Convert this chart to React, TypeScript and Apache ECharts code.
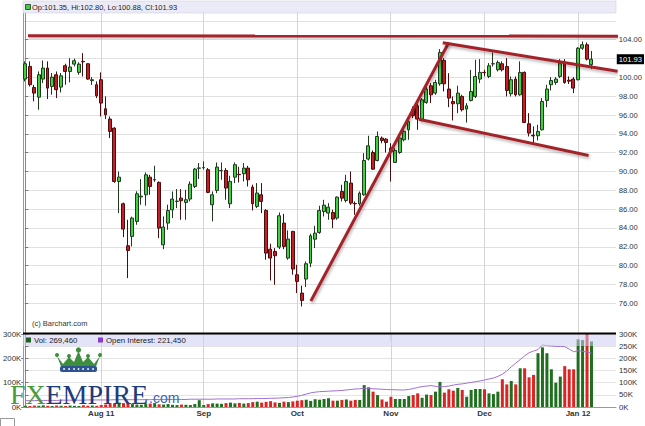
import React, { useEffect, useRef } from 'react';
import * as echarts from 'echarts';

// ---- data ----
const opens = [99.82,101.17,98.93,97.90,99.82,100.99,99.04,100.28,98.97,101.24,
100.63,101.41,100.53,101.70,101.45,99.65,99.22,99.75,96.67,95.57,
94.61,88.94,86.57,82.11,83.10,84.70,87.30,87.53,89.40,89.10,
88.84,82.21,84.52,85.93,86.82,87.17,86.71,87.07,88.41,90.34,
90.40,90.19,86.47,87.99,90.08,90.11,86.57,89.40,89.70,89.76,
90.36,88.34,86.29,87.53,85.86,81.75,81.50,81.97,84.52,80.80,
83.63,79.03,77.08,78.57,80.26,82.81,83.52,85.75,85.58,85.65,
85.05,87.88,86.92,88.77,86.60,86.57,87.53,91.32,92.02,91.17,
93.55,93.44,92.48,90.96,92.02,93.37,94.43,96.63,96.98,95.50,
97.34,99.11,98.33,99.32,101.80,98.76,97.44,97.20,97.98,96.63,
97.55,97.98,99.82,100.53,100.10,101.44,100.81,101.45,101.16,98.26,
99.82,98.15,100.53,95.07,93.85,93.80,94.43,97.55,99.22,99.46,
100.10,101.52,99.70,99.82,99.75,103.10,103.47,101.35];

const highs = [101.70,101.70,99.20,100.63,101.80,101.70,100.46,100.63,100.46,101.45,
102.05,102.00,101.60,102.58,101.50,100.03,99.57,100.53,97.98,95.85,
94.70,90.00,86.70,84.87,85.20,87.90,89.19,89.90,89.65,90.61,
88.95,85.23,86.47,87.88,88.13,88.13,88.06,88.95,90.37,90.90,
91.07,90.37,87.88,90.96,90.96,90.36,89.55,90.96,90.50,90.90,
90.60,88.60,88.77,88.77,86.00,82.32,81.86,85.65,85.50,83.74,
83.70,80.09,77.86,80.44,83.38,84.23,86.36,86.99,86.64,85.93,
87.35,88.59,89.65,90.00,86.82,87.88,91.95,93.80,92.24,94.26,
93.72,93.55,93.00,92.48,93.90,94.61,95.85,96.91,97.20,97.80,
99.20,99.39,99.75,103.00,102.05,100.45,97.98,99.11,98.15,97.27,
100.80,101.87,101.94,100.81,101.52,102.65,101.80,101.70,102.05,100.10,
100.10,101.70,100.63,96.20,94.79,94.96,97.80,99.22,100.03,100.03,
101.94,101.94,100.10,100.03,103.22,103.82,103.71,102.80];

const lows = [99.57,99.04,97.45,96.56,99.40,97.70,98.16,97.80,98.40,99.22,
99.47,101.17,100.28,100.10,99.75,99.20,97.80,95.85,95.57,93.55,
88.80,85.58,83.03,78.67,82.04,84.34,86.47,86.36,87.53,88.90,
82.92,81.75,83.81,85.05,86.11,84.87,84.87,86.82,88.24,89.20,
90.20,87.70,84.70,87.70,89.12,87.00,86.11,88.77,88.84,88.95,
88.41,85.86,86.11,85.58,80.62,78.42,77.96,81.75,81.75,80.62,
79.03,77.08,75.66,77.72,79.84,81.86,83.38,85.22,84.87,83.98,
84.87,86.82,86.71,86.46,85.40,86.36,87.42,91.17,90.18,91.07,
93.00,92.02,88.94,90.90,91.88,93.20,93.37,95.67,94.43,95.32,
97.20,97.27,98.15,99.11,98.50,96.84,95.43,96.20,96.38,95.20,
97.44,97.80,99.39,100.10,99.92,101.16,100.63,100.63,97.98,97.98,
97.98,98.05,95.14,93.72,93.02,93.30,94.36,96.84,98.61,99.22,
99.92,99.32,99.30,98.33,99.68,102.93,101.80,100.88];

const closes = [101.45,99.22,98.33,100.28,100.99,98.86,100.03,98.69,100.17,100.63,
101.10,101.77,101.41,101.66,99.82,99.75,98.05,97.27,96.03,94.26,
88.94,89.40,83.88,81.61,85.05,87.63,87.38,89.65,88.41,89.14,
83.99,84.10,85.86,87.07,86.85,86.89,87.00,88.66,90.26,90.38,
90.42,87.78,87.53,90.47,90.10,88.24,88.95,90.72,89.66,90.36,
89.12,86.57,87.71,86.82,81.33,80.80,81.05,85.30,82.04,82.82,
79.63,78.32,76.30,80.20,83.17,83.45,85.86,86.43,86.21,84.94,
87.28,87.17,88.94,86.64,86.57,87.70,91.17,92.73,90.25,93.72,
93.30,93.09,92.13,92.24,93.55,94.26,95.32,95.92,95.57,97.62,
98.76,98.15,99.46,102.65,99.32,97.80,97.20,98.33,96.56,96.98,
98.50,100.10,100.53,100.50,101.23,101.45,101.59,100.81,98.61,99.75,
98.15,100.53,95.21,94.08,93.78,94.26,97.44,98.76,99.67,99.82,
101.52,99.46,99.60,98.86,103.10,103.47,101.94,101.93];

// volume and open interest, thousands of contracts
const volumeK = [5,4,6,5,7,5,4,6,5,4,6,5,4,7,5,6,5,
8,10,12,14,18,16,15,12,
10,9,12,14,16,11,10,12,9,8,10,9,8,12,28,
8,12,15,14,13,16,18,15,17,14,16,20,22,18,21,24,19,17,22,20,23,
26,28,30,25,32,30,
33,36,26,26,29,31,26,29,29,
90,81,63,49,31,22,42,33,33,33,
45,49,56,38,51,49,63,103,59,73,
67,78,70,42,70,74,74,73,56,53,
63,114,93,107,93,159,159,122,132,221,
245,221,155,100,125,168,155,155,278,275,
300,269.46];

const openInterestK = [26,26,26,27,27,27,27,27,28,28,28,28,28,28,29,29,29,
29,29,29,30,30,30,30,30,30,30,30,30,31,31,31,31,31,31,31,31,32,32,32,
32,32,32,33,33,33,33,33,34,34,34,34,35,35,35,36,36,37,38,39,41,
44,48,53,58,61,63,
64,65,66,67,68,70,72,74,75,
77,76,75,74,73,72,71,71,70,70,
72,76,80,84,86,88,85,83,84,86,
90,93,95,98,101,104,107,111,115,119,
126,135,148,165,180,195,210,223,230,236,
255,252,251,249,249,248,238,227,231,229,226,221.45];

const monthTicks = [17, 40, 61, 82, 103, 124];
const monthLabels = ['Aug 11', 'Sep', 'Oct', 'Nov', 'Dec', 'Jan 12'];
const priceTicks = [74,76,78,80,82,84,86,88,90,92,94,96,98,100,102,104,106];
const SLOTS = 133;

// hand-drawn trend lines, in [day index, price]
const resistanceLine = [[0.62, 104.42], [133.6, 104.38]];
const risingLine = [[64.09, 76.24], [95.04, 103.71]];
const channelTop = [[93.69, 103.68], [132.9, 100.66]];
const channelBottom = [[88.31, 95.55], [126.4, 91.7]];

const FONT = "'Liberation Sans', Arial, sans-serif";
const SERIF = "'Liberation Serif', 'Times New Roman', serif";

export default function App() {
  const ref = useRef<HTMLDivElement>(null);

  useEffect(() => {
    if (!ref.current) return;
    const chart = echarts.init(ref.current, undefined, { renderer: 'svg' });

    const categories = Array.from({ length: SLOTS }, (_, i) => String(i));
    const candles = opens.map((o, i) => [o, closes[i], lows[i], highs[i]]);
    const last = opens.length - 1;
    const labelOf: Record<string, string> = {};
    monthTicks.forEach((t, k) => { labelOf[String(t)] = monthLabels[k]; });
    const gridColors = ['rgba(0,0,0,0)'].concat(priceTicks.map(() => '#e0e0e0'), ['rgba(0,0,0,0)']);
    const volItems = volumeK.map((v, i) => ({
      value: v,
      itemStyle: { color: closes[i] >= opens[i] ? '#1f6f1f' : '#dd2424' },
    }));
    const fmtK = (v: number) => Math.round(v * 1000).toLocaleString('en-US');
    const legendText = `Op:${opens[last].toFixed(2)}, Hi:${highs[last].toFixed(2)}, Lo:${lows[last].toFixed(2)}, Cl:${closes[last].toFixed(2)}`;

    const trend = (pts: number[][], shadow: boolean) => ({
      type: 'line', xAxisIndex: 1, yAxisIndex: 0, data: pts, symbol: 'none',
      clip: false, z: 4, silent: true,
      lineStyle: shadow
        ? { color: '#a3242a', width: 3, shadowColor: 'rgba(0,0,0,0.3)', shadowBlur: 3, shadowOffsetX: 1, shadowOffsetY: 2 }
        : { color: '#a3242a', width: 3 },
    });
    // soft drop shadow under the flat resistance line (an SVG filter would vanish on a flat path)
    const resistanceShadow = {
      type: 'line', xAxisIndex: 1, yAxisIndex: 0,
      data: resistanceLine.map(([x, y]) => [x + 0.2, y - 0.2]),
      symbol: 'none', clip: false, z: 3, silent: true,
      lineStyle: { color: 'rgba(0,0,0,0.14)', width: 3 },
    };
    const monthMark = {
      silent: true, symbol: 'none', z: 1, label: { show: false },
      lineStyle: { color: '#d4d4d4', width: 1, type: 'solid' },
      data: monthTicks.map((i) => ({ xAxis: i })),
    };

    const option: any = {
      animation: false,
      backgroundColor: '#ffffff',
      textStyle: { fontFamily: FONT },
      grid: [
        { left: 23, width: 593, top: 2.1, height: 338.8 },
        { left: 23, width: 593, top: 334, height: 73 },
      ],
      xAxis: [
        { type: 'category', gridIndex: 0, data: categories, show: false, boundaryGap: true },
        { type: 'value', gridIndex: 0, min: -0.5, max: SLOTS - 0.5, show: false },
        {
          type: 'category', gridIndex: 1, data: categories, boundaryGap: true,
          axisLine: { show: true, lineStyle: { color: '#999' } },
          axisTick: { show: false },
          splitLine: { show: false },
          axisLabel: {
            interval: (i: number) => monthTicks.includes(i),
            formatter: (v: string) => labelOf[v] || '',
            fontSize: 8, fontWeight: 'bold', color: '#333', margin: 2, fontFamily: FONT,
          },
        },
        { type: 'value', gridIndex: 1, min: -0.5, max: SLOTS - 0.5, show: false },
      ],
      yAxis: [
        {
          type: 'value', gridIndex: 0, position: 'right', min: 72, max: 108, interval: 2,
          axisLine: { show: true, lineStyle: { color: '#888' } },
          axisTick: { show: true, length: 3, lineStyle: { color: '#777' }, customValues: priceTicks },
          axisLabel: {
            fontSize: 7.6, color: '#333', margin: 3, fontFamily: FONT,
            showMinLabel: false, showMaxLabel: false, customValues: priceTicks,
            formatter: (v: number) => v.toFixed(2),
          },
          splitLine: { show: true, lineStyle: { color: gridColors, width: 1 } },
        },
        {
          type: 'value', gridIndex: 0, position: 'left', min: 72, max: 108,
          axisLine: { show: true, lineStyle: { color: '#999' } },
          axisLabel: { show: false }, axisTick: { show: false }, splitLine: { show: false },
        },
        {
          type: 'value', gridIndex: 1, position: 'right', min: 0, max: 300, interval: 50,
          axisLine: { show: true, lineStyle: { color: '#888' } },
          axisTick: { show: true, length: 3, lineStyle: { color: '#777' } },
          axisLabel: { fontSize: 7.8, color: '#333', margin: 3, fontFamily: FONT, formatter: (v: number) => `${v}K` },
          splitLine: { show: true, lineStyle: { color: '#e4e4e4', width: 1 } },
        },
        {
          type: 'value', gridIndex: 1, position: 'left', min: 0, max: 300, interval: 100,
          axisLine: { show: true, lineStyle: { color: '#999' } },
          axisTick: { show: true, length: 2, lineStyle: { color: '#777' } },
          axisLabel: { fontSize: 7.8, color: '#333', margin: 2, fontFamily: FONT, formatter: (v: number) => `${v}K` },
          splitLine: { show: false },
        },
      ],
      series: [
        {
          type: 'line', xAxisIndex: 1, yAxisIndex: 0, data: [[0, 90]], symbol: 'none',
          showSymbol: false, lineStyle: { opacity: 0 }, silent: true, z: 1, markLine: monthMark,
        },
        {
          type: 'candlestick', xAxisIndex: 0, yAxisIndex: 0, data: candles, barWidth: 3.4, z: 2,
          itemStyle: {
            color: '#3fcf3f', color0: '#c41e26',
            borderColor: '#1f3a1f', borderColor0: '#4a0c0c', borderWidth: 1,
          },
          markLine: {
            silent: true, symbol: 'none', z: 6,
            lineStyle: { color: 'rgba(0,0,0,0)', width: 0 },
            data: [{ yAxis: closes[last] }],
            label: {
              show: true, position: 'end', distance: 1,
              formatter: () => closes[last].toFixed(2),
              backgroundColor: '#000', color: '#fff', fontSize: 7.6, fontFamily: FONT,
              padding: [1, 2, 1, 2],
            },
          },
        },
        resistanceShadow,
        trend(resistanceLine, false),
        trend(risingLine, true),
        trend(channelTop, true),
        trend(channelBottom, true),
        {
          type: 'line', xAxisIndex: 3, yAxisIndex: 2, data: [[0, 0]], symbol: 'none',
          showSymbol: false, lineStyle: { opacity: 0 }, silent: true, z: 1, markLine: monthMark,
        },
        { type: 'bar', xAxisIndex: 2, yAxisIndex: 2, data: volItems, barWidth: 3, z: 2, silent: true },
        {
          type: 'line', xAxisIndex: 2, yAxisIndex: 2, data: openInterestK, symbol: 'none',
          showSymbol: false, silent: true, z: 3, lineStyle: { color: '#a070d0', width: 1 },
        },
      ],
      graphic: [
        // price legend band
        { type: 'rect', z: 10, shape: { x: 23, y: 1, width: 593, height: 12 }, style: { fill: '#ebebf7', stroke: '#c8c8d8', lineWidth: 0.5 } },
        { type: 'rect', z: 11, shape: { x: 25.5, y: 4.5, width: 5, height: 5 }, style: { fill: '#3fcf3f', stroke: '#1f3a1f', lineWidth: 0.8 } },
        { type: 'text', z: 11, style: { x: 32, y: 7.5, text: legendText, fontSize: 7.5, fontFamily: FONT, fill: '#222', textVerticalAlign: 'middle' } },
        { type: 'text', z: 11, style: { x: 32, y: 323, text: '(c) Barchart.com', fontSize: 7.5, fontFamily: FONT, fill: '#333', textVerticalAlign: 'middle' } },
        // volume legend band
        { type: 'line', z: 11, shape: { x1: 23, y1: 333.5, x2: 616, y2: 333.5 }, style: { stroke: '#000', lineWidth: 2 } },
        { type: 'rect', z: 10, shape: { x: 23, y: 334.5, width: 593, height: 11.5 }, style: { fill: 'rgba(205,205,242,0.55)' } },
        { type: 'rect', z: 11, shape: { x: 26, y: 337.5, width: 5, height: 5 }, style: { fill: '#1f5f1f' } },
        { type: 'text', z: 11, style: { x: 34, y: 340.3, text: `Vol: ${fmtK(volumeK[last])}`, fontSize: 7.8, fontFamily: FONT, fill: '#222', textVerticalAlign: 'middle' } },
        { type: 'rect', z: 11, shape: { x: 98, y: 337.5, width: 5, height: 5 }, style: { fill: '#8a3cc8' } },
        { type: 'text', z: 11, style: { x: 106, y: 340.3, text: `Open Interest: ${fmtK(openInterestK[last])}`, fontSize: 7.8, fontFamily: FONT, fill: '#222', textVerticalAlign: 'middle' } },
        // FXEMPIRE logo
        { type: 'polygon', z: 12, shape: { points: [[57,356],[63,364],[69,357],[74,362],[78.5,351],[83,362],[88,357],[94,364],[100,356],[96,366.5],[61,366.5]] }, style: { fill: '#3d8f3d' } },
        { type: 'circle', z: 12, shape: { cx: 57, cy: 355, r: 2 }, style: { fill: '#3d8f3d' } },
        { type: 'circle', z: 12, shape: { cx: 69, cy: 356, r: 2 }, style: { fill: '#3d8f3d' } },
        { type: 'circle', z: 12, shape: { cx: 78.5, cy: 350, r: 2.6 }, style: { fill: '#3d8f3d' } },
        { type: 'circle', z: 12, shape: { cx: 88, cy: 356, r: 2 }, style: { fill: '#3d8f3d' } },
        { type: 'circle', z: 12, shape: { cx: 100, cy: 355, r: 2 }, style: { fill: '#3d8f3d' } },
        { type: 'rect', z: 12, shape: { x: 60, y: 366, width: 37, height: 6, r: 2 }, style: { fill: '#2d5391' } },
        ...[64, 69, 74, 78.5, 83, 88, 93].map((cx) => ({ type: 'circle', z: 13, shape: { cx, cy: 369, r: 0.9 }, style: { fill: '#ffffff' } })),
        { type: 'text', z: 12, style: { x: 10, y: 394, text: 'FX', fontSize: 28, fontFamily: SERIF, fill: '#4a9a40', textVerticalAlign: 'middle' } },
        { type: 'text', z: 12, style: { x: 45.5, y: 394, text: 'EMPIRE', fontSize: 28, fontFamily: SERIF, fill: '#1e3b7b', textVerticalAlign: 'middle' } },
        { type: 'text', z: 12, style: { x: 149, y: 398, text: '.com', fontSize: 14, fontFamily: FONT, fill: '#3a66b0', textVerticalAlign: 'middle' } },
        { type: 'rect', z: 10, shape: { x: 0.5, y: 418.5, width: 14, height: 8 }, style: { fill: 'none', stroke: '#999', lineWidth: 1 } },
      ],
    };

    chart.setOption(option);
    return () => chart.dispose();
  }, []);

  return <div ref={ref} style={{ position: 'fixed', left: 0, top: 0, width: 645, height: 426 }} />;
}
